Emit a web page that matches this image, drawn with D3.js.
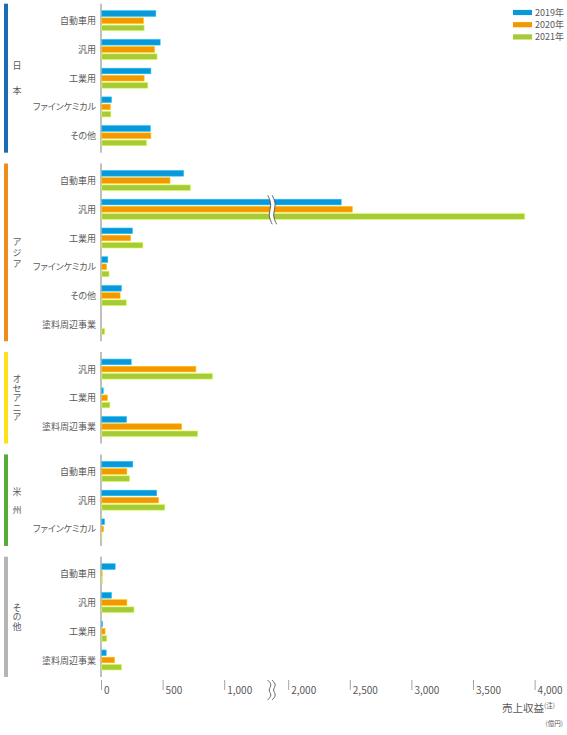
<!DOCTYPE html>
<html lang="ja">
<head>
<meta charset="utf-8">
<script src="https://cdn.jsdelivr.net/npm/d3@7"></script>
<style>
  html, body { margin: 0; padding: 0; background: #fff; }
  svg { display: block; font-family: "Noto Sans CJK JP", "Noto Sans", sans-serif; }
  .palt { font-feature-settings: "palt"; }
</style>
</head>
<body>
<svg id="chart" width="567" height="735"></svg>
<script>
'use strict';

// ---- data (売上収益, 億円) ----
const years = ['2019年', '2020年', '2021年'];
const regions = ['日本', 'アジア', 'オセアニア', '米州', 'その他'];
const regionCategories = [
    ['自動車用', '汎用', '工業用', 'ファインケミカル', 'その他'],
    ['自動車用', '汎用', '工業用', 'ファインケミカル', 'その他', '塗料周辺事業'],
    ['汎用', '工業用', '塗料周辺事業'],
    ['自動車用', '汎用', 'ファインケミカル'],
    ['自動車用', '汎用', '工業用', '塗料周辺事業']
];
const values2019 = [
    [445, 480, 405, 85, 400],
    [670, 2430, 255, 55, 165, 0],
    [245, 18, 207],
    [258, 452, 28],
    [115, 85, 12, 42]
];
const values2020 = [
    [345, 435, 350, 75, 405],
    [560, 2520, 240, 45, 155, 0],
    [770, 52, 655],
    [210, 467, 20],
    [10, 210, 33, 110]
];
const values2021 = [
    [350, 455, 380, 80, 370],
    [725, 3920, 340, 65, 205, 30],
    [905, 72, 785],
    [232, 518, 8],
    [12, 268, 47, 167]
];
const tickValues = [0, 500, 1000, 2000, 2500, 3000, 3500, 4000];

// ---- styles ----
const yearColors = ['#0a98d8', '#f39800', '#a6ca38'];
const regionColors = ['#1a6db5', '#f08c1e', '#ffe11a', '#55ad38', '#b5b5b5'];
const regionLetterSpacing = [16, 2, 0.5, 9, 0.5];
const textColor = '#595959';

const svg = d3.select('#chart');

// x: broken axis, 1,000-2,000 squeezed into one tick step
const x = d3.scaleLinear()
    .domain([0, 1000, 2000, 4000])
    .range([101, 224.2, 288.2, 534.6]);
const breakValue = 1750;

// y: every category row gets a slot, regions separated by an extra gap
const regionGap = 0.56;
const rows = [];
let slot = 0;
regions.forEach(function(region, r) {
    regionCategories[r].forEach(function(cat, i) {
        rows.push({
            region: r,
            category: cat,
            slot: slot + r * regionGap,
            values: [values2019[r][i], values2020[r][i], values2021[r][i]]
        });
        slot++;
    });
});
const lastSlot = d3.max(rows, function(d) { return d.slot; });
const y = d3.scaleLinear().domain([0, lastSlot]).range([20.7, 660]);

const inner = d3.scaleBand().domain(d3.range(years.length))
    .range([-10, 10]).paddingInner(0.22);

// region extents
const regionInfo = regions.map(function(name, r) {
    const rs = rows.filter(function(d) { return d.region === r; });
    return {
        name: name,
        index: r,
        top: y(rs[0].slot) - 17,
        bottom: y(rs[rs.length - 1].slot) + 17
    };
});

// region colour bars
svg.append('g').selectAll('rect')
    .data(regionInfo)
    .enter()
    .append('rect')
    .attr('x', 4)
    .attr('width', 4)
    .attr('y', function(d) { return d.top; })
    .attr('height', function(d) { return d.bottom - d.top; })
    .style('fill', function(d) { return regionColors[d.index]; });

// region names, written vertically
svg.append('g').selectAll('text')
    .data(regionInfo)
    .enter()
    .append('text')
    .attr('x', 17)
    .attr('y', function(d) { return (d.top + d.bottom) / 2 + regionLetterSpacing[d.index] / 2; })
    .attr('text-anchor', 'middle')
    .style('writing-mode', 'vertical-rl')
    .style('letter-spacing', function(d) { return regionLetterSpacing[d.index] + 'px'; })
    .style('font-size', '9px')
    .style('fill', textColor)
    .text(function(d) { return d.name; });

// y axis line per region
svg.append('g').selectAll('line')
    .data(regionInfo)
    .enter()
    .append('line')
    .attr('x1', x(0)).attr('x2', x(0))
    .attr('y1', function(d) { return d.top; })
    .attr('y2', function(d) { return d.bottom; })
    .style('stroke', '#b0b0b0')
    .style('stroke-width', 1.6);

// category labels
svg.append('g').selectAll('text')
    .data(rows)
    .enter()
    .append('text')
    .attr('class', 'palt')
    .attr('x', 96)
    .attr('y', function(d) { return y(d.slot); })
    .attr('text-anchor', 'end')
    .attr('dominant-baseline', 'central')
    .style('font-size', '9px')
    .style('fill', textColor)
    .text(function(d) { return d.category; });

// bars (zero values are left out)
const groups = svg.append('g').selectAll('g')
    .data(rows)
    .enter()
    .append('g')
    .attr('transform', function(d) { return 'translate(0,' + y(d.slot) + ')'; });

groups.selectAll('rect')
    .data(function(d) {
        return d.values
            .map(function(v, i) { return { value: v, year: i }; })
            .filter(function(b) { return b.value > 0; });
    })
    .enter()
    .append('rect')
    .attr('x', x(0) + 0.8)
    .attr('y', function(b) { return inner(b.year); })
    .attr('width', function(b) { return x(b.value) - x(0) - 0.8; })
    .attr('height', inner.bandwidth())
    .style('fill', function(b) { return yearColors[b.year]; })
    .style('stroke', function(b) { return d3.color(yearColors[b.year]).brighter(0.7); })
    .style('stroke-width', 0.6);

// wavy break marks
function drawBreak(cx, y0, y1, waves, amp) {
    const n = waves * 2;
    const pts = d3.range(n + 1).map(function(i) {
        return { x: cx + (i % 2 === 0 ? -amp : amp), y: y0 + i * (y1 - y0) / n };
    });
    const g = svg.append('g');
    g.append('path')
        .datum(pts)
        .attr('d', d3.area()
            .y(function(p) { return p.y; })
            .x0(function(p) { return p.x - 2.2; })
            .x1(function(p) { return p.x + 2.2; })
            .curve(d3.curveBasis))
        .style('fill', '#fff');
    [-2.2, 2.2].forEach(function(off) {
        g.append('path')
            .datum(pts)
            .attr('d', d3.line()
                .x(function(p) { return p.x + off; })
                .y(function(p) { return p.y; })
                .curve(d3.curveBasis))
            .style('fill', 'none')
            .style('stroke', '#555')
            .style('stroke-width', 0.9);
    });
}

const bigRow = rows.filter(function(d) { return d3.max(d.values) > 2000; });
bigRow.forEach(function(d) {
    const cy = y(d.slot);
    drawBreak(x(breakValue), cy - 14, cy + 15, 1.5, 2.2);
});

// x axis: ticks with labels to the right
const axisY = 680;
const axis = svg.append('g')
    .attr('transform', 'translate(0,' + axisY + ')')
    .call(d3.axisBottom(x)
        .tickValues(tickValues)
        .tickFormat(d3.format(','))
        .tickSize(10)
        .tickPadding(0));
axis.select('.domain').remove();
axis.selectAll('.tick line')
    .style('stroke', '#8c8c8c')
    .style('stroke-width', 0.8);
axis.selectAll('.tick text')
    .attr('x', 2.5)
    .attr('y', 14)
    .attr('dy', 0)
    .attr('text-anchor', 'start')
    .style('font-family', '"Noto Sans CJK JP", sans-serif')
    .style('font-size', '10px')
    .style('fill', textColor);

drawBreak(x(breakValue), axisY, axisY + 20, 2, 2.4);

// axis title
const title = svg.append('text')
    .attr('x', 555)
    .attr('y', 712)
    .attr('text-anchor', 'end')
    .style('fill', textColor);
title.append('tspan')
    .style('font-size', '10.5px')
    .text('売上収益');
title.append('tspan')
    .attr('dy', -4)
    .style('font-size', '6.5px')
    .text('(注)');

svg.append('text')
    .attr('x', 563)
    .attr('y', 726)
    .attr('text-anchor', 'end')
    .style('font-size', '6.5px')
    .style('fill', textColor)
    .text('(億円)');

// legend
const legend = svg.append('g').selectAll('g')
    .data(years)
    .enter()
    .append('g')
    .attr('transform', function(d, i) { return 'translate(513,' + (12.5 + i * 12.2) + ')'; });
legend.append('rect')
    .attr('x', 0).attr('y', -2.6)
    .attr('width', 19).attr('height', 5.2)
    .style('fill', function(d, i) { return yearColors[i]; });
legend.append('text')
    .attr('x', 22)
    .attr('dominant-baseline', 'central')
    .style('font-size', '9px')
    .style('fill', textColor)
    .text(function(d) { return d; });
</script>
</body>
</html>
